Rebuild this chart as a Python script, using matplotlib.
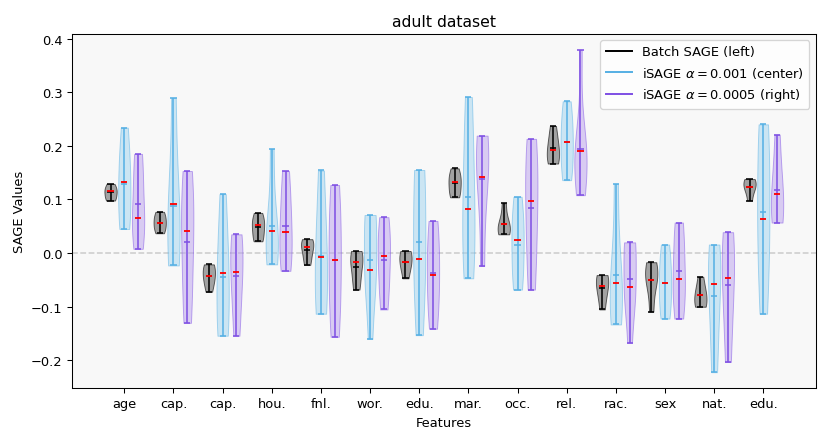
import matplotlib
matplotlib.use("Agg")
import matplotlib.pyplot as plt
import numpy as np

features = ["age", "cap.", "cap.", "hou.", "fnl.", "wor.", "edu.",
            "mar.", "occ.", "rel.", "rac.", "sex", "nat.", "edu."]

# per-feature run values
batch_sage = [
    [0.098, 0.104, 0.115, 0.119, 0.129],
    [0.037, 0.047, 0.057, 0.067, 0.077],
    [-0.072, -0.052, -0.043, -0.027, -0.021],
    [0.022, 0.032, 0.052, 0.059, 0.075],
    [-0.022, -0.005, 0.012, 0.019, 0.026],
    [-0.068, -0.043, -0.017, -0.006, 0.004],
    [-0.047, -0.025, -0.017, 0.000, 0.004],
    [0.104, 0.114, 0.133, 0.141, 0.158],
    [0.035, 0.036, 0.054, 0.055, 0.093],
    [0.167, 0.174, 0.193, 0.209, 0.237],
    [-0.105, -0.075, -0.062, -0.042, -0.041],
    [-0.109, -0.052, -0.051, -0.026, -0.017],
    [-0.100, -0.098, -0.078, -0.070, -0.044],
    [0.098, 0.120, 0.123, 0.136, 0.138],
]

isage_001 = [
    [0.045, 0.069, 0.133, 0.164, 0.234],
    [-0.023, -0.018, 0.092, 0.100, 0.289],
    [-0.154, -0.138, -0.038, -0.005, 0.110],
    [-0.021, -0.005, 0.041, 0.046, 0.194],
    [-0.113, -0.096, -0.007, 0.037, 0.154],
    [-0.160, -0.060, -0.040, -0.032, 0.060, 0.070, 0.071],
    [-0.153, -0.020, -0.011, 0.134, 0.155],
    [-0.047, 0.012, 0.083, 0.181, 0.291],
    [-0.068, -0.034, 0.024, 0.053, 0.105],
    [0.136, 0.168, 0.207, 0.241, 0.283],
    [-0.133, -0.110, -0.055, -0.031, 0.129],
    [-0.122, -0.092, -0.055, -0.022, 0.016],
    [-0.222, -0.128, -0.057, -0.009, 0.016],
    [-0.113, 0.009, 0.064, 0.185, 0.240],
]

isage_0005 = [
    [0.008, 0.056, 0.066, 0.145, 0.185],
    [-0.130, -0.051, 0.042, 0.091, 0.153],
    [-0.154, -0.078, -0.035, 0.017, 0.035],
    [-0.033, -0.002, 0.040, 0.092, 0.153],
    [-0.156, -0.080, -0.012, 0.061, 0.127],
    [-0.105, -0.053, -0.006, 0.032, 0.067],
    [-0.141, -0.082, -0.040, 0.018, 0.060],
    [-0.024, 0.139, 0.141, 0.215, 0.219],
    [-0.068, 0.021, 0.097, 0.162, 0.213],
    [0.108, 0.120, 0.170, 0.191, 0.192, 0.198, 0.379],
    [-0.167, -0.090, -0.070, -0.064, 0.010, 0.018, 0.020],
    [-0.122, -0.073, -0.049, 0.017, 0.057],
    [-0.203, -0.102, -0.047, 0.018, 0.039],
    [0.057, 0.060, 0.111, 0.141, 0.221],
]

series = [
    (batch_sage, "Batch SAGE (left)", "black", "#6a6a6a", 0.6, -0.28),
    (isage_001, r"iSAGE $\alpha = 0.001$ (center)", "#56B0E4", "#9fd3f0", 0.5, 0.0),
    (isage_0005, r"iSAGE $\alpha = 0.0005$ (right)", "#7F50E4", "#b9a0ee", 0.5, 0.28),
]

DPI = 94
fig = plt.figure(figsize=(830 / DPI, 443 / DPI), dpi=DPI)
ax = fig.add_axes([0.0864, 0.1212, 0.8966, 0.8005])
ax.set_facecolor("#f8f8f8")

base = np.arange(len(features))
for data, label, lc, fc, alpha, off in series:
    parts = ax.violinplot(data, positions=base + off, widths=0.25,
                          showextrema=True, showmeans=True, showmedians=True)
    for b in parts["bodies"]:
        b.set_facecolor(fc)
        b.set_edgecolor(lc)
        b.set_alpha(alpha)
        b.set_linewidth(0.7)
    for key in ["cbars", "cmins", "cmaxes", "cmeans"]:
        parts[key].set_color(lc)
        parts[key].set_linewidth(1.2)
    parts["cmedians"].set_color("red")
    parts["cmedians"].set_linewidth(1.4)
    ax.plot([], [], color=lc, lw=1.5, label=label)

ax.axhline(0, color="#cccccc", ls="--", lw=1.2, zorder=0)
ax.set_xlim(-1.07, len(features) - 1 + 1.07)
ax.set_xticks(base)
ax.set_xticklabels(features)
ax.set_yticks([-0.2, -0.1, 0.0, 0.1, 0.2, 0.3, 0.4])
ax.set_title("adult dataset")
ax.set_xlabel("Features")
ax.set_ylabel("SAGE Values")
ax.legend(loc="upper right")

fig.savefig("out.png", dpi=DPI)
